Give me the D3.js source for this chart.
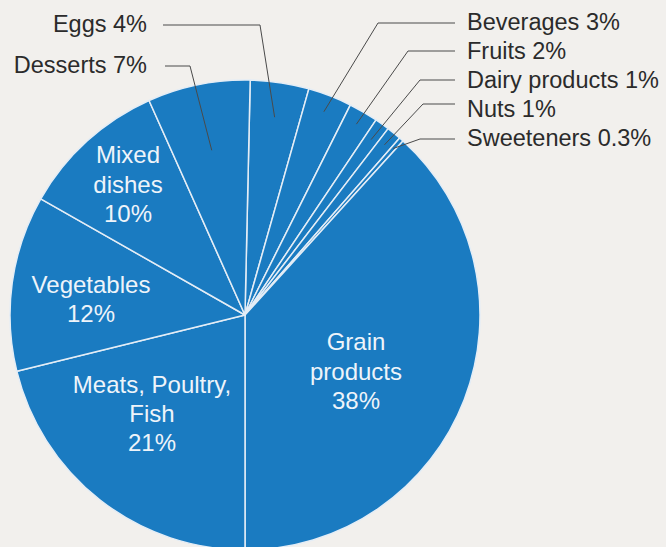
<!DOCTYPE html>
<html>
<head>
<meta charset="utf-8">
<script src="https://cdn.jsdelivr.net/npm/d3@7"></script>
<style>
  html, body { margin: 0; padding: 0; background: #f2f0ed; }
  svg { display: block; }
  text { font-family: "Liberation Sans", Arial, Helvetica, sans-serif; }
</style>
</head>
<body>
<svg id="chart" width="666" height="547"></svg>
<script>
// ---- data ----
const categories = ["Eggs", "Beverages", "Fruits", "Dairy products", "Nuts", "Sweeteners",
                    "Grain products", "Meats, Poultry, Fish", "Vegetables", "Mixed dishes", "Desserts"];
const values = [4, 3, 2, 1, 1, 0.3, 38, 21, 12, 10, 7];
const valueLabels = ["4%", "3%", "2%", "1%", "1%", "0.3%", "38%", "21%", "12%", "10%", "7%"];

// ---- layout (annotation positions, not data) ----
const W = 666, H = 547;
const cx = 245, cy = 315, R = 235;
const blue = "#1a7bc1";

// outside labels: text anchor point, elbow, horizontal end, leader radius
const outside = {
  "Eggs":           { tx: 147, ty: 31.5, anchor: "end",   hy: 25,  hx0: 163, elbow: 260, r: 200 },
  "Desserts":       { tx: 147, ty: 72.5, anchor: "end",   hy: 66,  hx0: 165, elbow: 190, r: 168 },
  "Beverages":      { tx: 467, ty: 29.5, anchor: "start", hy: 23,  hx0: 455, elbow: 378, r: 218 },
  "Fruits":         { tx: 467, ty: 58.5, anchor: "start", hy: 51,  hx0: 455, elbow: 408, r: 221 },
  "Dairy products": { tx: 467, ty: 87.5, anchor: "start", hy: 80,  hx0: 455, elbow: 420, r: 216 },
  "Nuts":           { tx: 467, ty: 116.5,anchor: "start", hy: 104, hx0: 455, elbow: 423, r: 220 },
  "Sweeteners":     { tx: 467, ty: 145.5,anchor: "start", hy: 139, hx0: 455, elbow: 420, r: 223 }
};
const inside = {
  "Grain products":       { x: 356, lines: ["Grain", "products"], ys: [350, 380, 409] },
  "Meats, Poultry, Fish": { x: 152, lines: ["Meats, Poultry,", "Fish"], ys: [393, 422, 451] },
  "Vegetables":           { x: 91,  lines: ["Vegetables"], ys: [293, 322] },
  "Mixed dishes":         { x: 128, lines: ["Mixed", "dishes"], ys: [163, 193, 222] }
};

const svg = d3.select("#chart");
svg.append("rect").attr("width", W).attr("height", H).attr("fill", "#f2f0ed");

const data = categories.map((c, i) => ({ name: c, value: values[i], label: valueLabels[i] }));
const total = d3.sum(values);
const beforeEnd = d3.sum(values.slice(0, 7)); // eggs .. grain
const start = Math.PI - 2 * Math.PI * beforeEnd / total;

const pie = d3.pie().sort(null).value(d => d.value)
  .startAngle(start).endAngle(start + 2 * Math.PI);
const arcs = pie(data);
const arc = d3.arc().innerRadius(0).outerRadius(R);

const g = svg.append("g").attr("transform", `translate(${cx},${cy})`);

g.selectAll("path.slice").data(arcs).enter().append("path")
  .attr("class", "slice")
  .attr("d", arc)
  .attr("fill", blue)
  .attr("stroke", "#e4edf6")
  .attr("stroke-width", 1.5)
  .attr("stroke-linejoin", "round");

// leader lines and outside labels
const lineG = svg.append("g");
arcs.forEach(a => {
  const o = outside[a.data.name];
  if (!o) return;
  const p = d3.arc().innerRadius(o.r).outerRadius(o.r).centroid(a);
  const end = [cx + p[0], cy + p[1]];
  lineG.append("path")
    .attr("d", d3.line()([[o.hx0, o.hy], [o.elbow, o.hy], end]))
    .attr("fill", "none")
    .attr("stroke", "#4a4a4a")
    .attr("stroke-width", 1);
  lineG.append("text")
    .attr("x", o.tx).attr("y", o.ty)
    .attr("text-anchor", o.anchor)
    .attr("font-size", 23.5)
    .attr("fill", "#2b2b2b")
    .text(`${a.data.name} ${a.data.label}`);
});

// inside labels
arcs.forEach(a => {
  const o = inside[a.data.name];
  if (!o) return;
  const t = svg.append("text")
    .attr("text-anchor", "middle")
    .attr("font-size", 24)
    .attr("fill", "#eef4fa");
  o.lines.concat([a.data.label]).forEach((ln, i) => {
    t.append("tspan").attr("x", o.x).attr("y", o.ys[i]).text(ln);
  });
});
</script>
</body>
</html>
